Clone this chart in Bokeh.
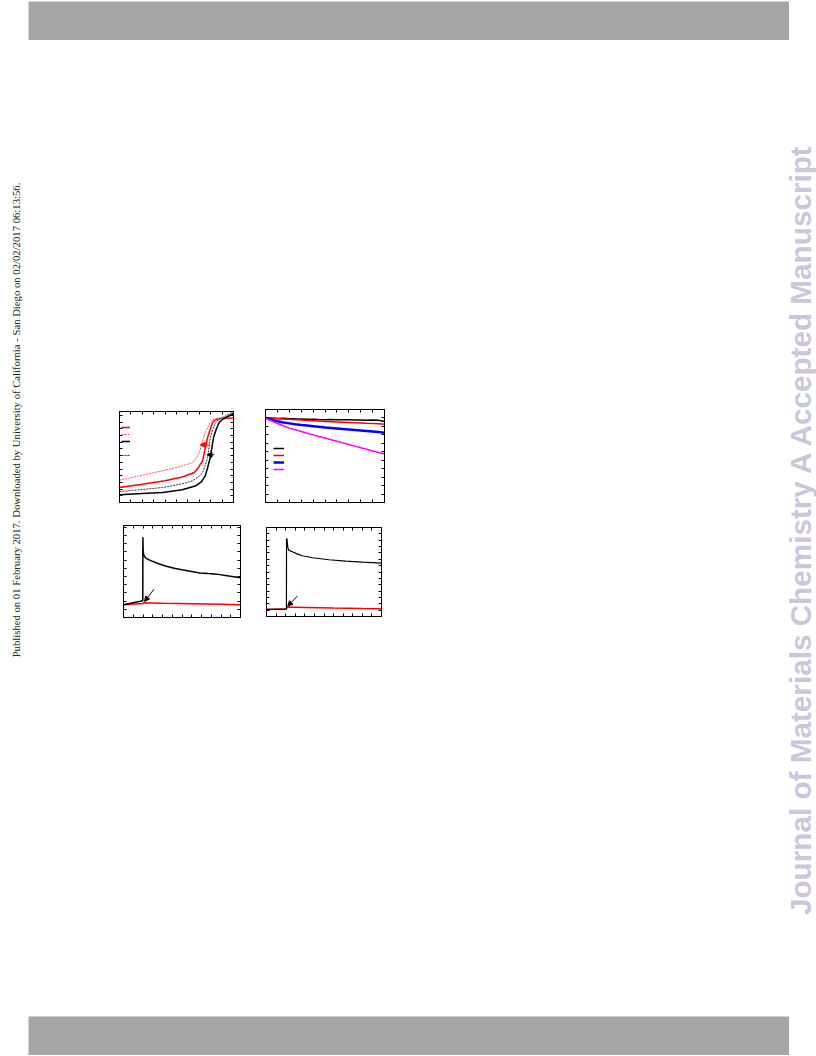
import math
from bokeh.plotting import figure
from bokeh.layouts import row, column, Spacer
from bokeh.models import (Range1d, LinearAxis, SingleIntervalTicker, Legend,
                          LegendItem, Arrow, NormalHead)
from bokeh.core.properties import value
from bokeh.embed import file_html
from bokeh.resources import INLINE

# ---------------- data ----------------
# panel (a): four S-shaped curves
a_red_solid_x = [0.0, 0.20, 0.40, 0.55, 0.656, 0.69, 0.729, 0.75, 0.773, 0.795, 0.816, 0.84, 0.875, 1.0]
a_red_solid_y = [0.224, 0.272, 0.326, 0.381, 0.449, 0.517, 0.623, 0.789, 0.971, 1.088, 1.195, 1.231, 1.255, 1.262]
a_red_dot_x = [0.0, 0.20, 0.40, 0.55, 0.641, 0.675, 0.70, 0.715, 0.729, 0.75, 0.773, 0.795, 0.816, 0.85, 1.0]
a_red_dot_y = [0.333, 0.408, 0.483, 0.544, 0.598, 0.666, 0.748, 0.830, 0.922, 1.034, 1.121, 1.197, 1.235, 1.255, 1.265]
a_blk_solid_x = [0.0, 0.20, 0.379, 0.55, 0.67, 0.72, 0.752, 0.775, 0.796, 0.81, 0.825, 0.85, 0.875, 0.90, 0.933, 1.0]
a_blk_solid_y = [0.114, 0.133, 0.150, 0.190, 0.249, 0.313, 0.398, 0.530, 0.673, 0.816, 0.971, 1.102, 1.195, 1.238, 1.270, 1.330]
a_blk_dot_x = [0.0, 0.20, 0.379, 0.55, 0.641, 0.69, 0.729, 0.75, 0.773, 0.785, 0.796, 0.82, 0.845, 0.87, 0.904, 1.0]
a_blk_dot_y = [0.163, 0.194, 0.224, 0.279, 0.324, 0.381, 0.449, 0.544, 0.673, 0.816, 0.971, 1.102, 1.195, 1.238, 1.270, 1.36]
a_arrow_red = [0.787, 0.862, 0.708, 0.862]   # x_start, y_start, x_end, y_end
a_arrow_blk = [0.831, 0.713, 0.767, 0.713]

# panel (b): retention-type curves
b_x = [0, 5, 10, 15, 20, 25, 30, 35, 40, 45, 50, 55, 60, 65, 70, 75, 80, 85, 90, 95, 100]
b_black = [100, 99.8, 99.5, 99.6, 99.2, 99.0, 98.9, 98.4, 98.6, 98.2, 98.0, 98.3, 97.9, 97.8, 97.9, 97.5, 97.6, 97.4, 97.6, 97.2, 95.8]
b_red = [100, 99.6, 99.2, 98.8, 98.4, 98.0, 97.5, 97.1, 96.7, 96.3, 95.8, 95.5, 95.2, 94.9, 94.6, 94.3, 94.0, 93.6, 93.3, 93.0, 92.7]
b_blue = [100, 97.8, 96.0, 94.6, 93.6, 92.6, 91.7, 91.0, 90.3, 89.5, 88.8, 88.2, 87.6, 87.0, 86.4, 85.8, 85.2, 84.6, 84.0, 83.3, 82.5]
b_magenta = [100, 96.5, 93.5, 90.7, 88.0, 86.0, 84.0, 82.0, 80.0, 78.0, 76.2, 74.3, 72.4, 70.5, 68.6, 66.7, 64.8, 62.9, 61.0, 59.2, 57.4]

# panel (c)
c_blk_x = [0, 19.8, 19.9, 20.2, 20.6, 21.2, 22.8, 26.8, 36.0, 43.9, 52.0, 61.1, 70.0, 78.1, 87.0, 95.3, 108.0, 120.0]
c_blk_y = [15.6, 20.4, 97.7, 80.6, 77.0, 75.0, 72.2, 69.9, 65.5, 62.5, 60.0, 57.7, 56.0, 54.3, 53.5, 52.8, 50.4, 48.3]
c_red_x = [0, 19.8, 20.3, 40, 70, 100, 120]
c_red_y = [15.6, 17.0, 17.9, 17.4, 16.8, 16.2, 15.6]
c_arrow = [31.2, 34.4, 21.6, 19.6]

# panel (d)
d_blk_x = [0, 20.8, 20.9, 21.3, 21.8, 22.3, 23.5, 27.0, 32.0, 37.4, 47.9, 65.2, 82.6, 99.8, 120.0]
d_blk_y = [11.1, 11.6, 121.0, 123.0, 115.0, 108.0, 104.0, 101.9, 98.5, 95.6, 92.4, 89.3, 87.2, 85.5, 84.0]
d_red_x = [0, 20.8, 21.6, 40, 70, 100, 120]
d_red_y = [11.1, 12.2, 14.8, 14.2, 13.3, 12.6, 12.2]
d_arrow = [32.3, 32.2, 22.2, 16.4]

LEFT_TEXT = "Published on 01 February 2017. Downloaded by University of California - San Diego on 02/02/2017 06:13:56."
RIGHT_TEXT = "Journal of Materials Chemistry A Accepted Manuscript"

# ---------------- helpers ----------------
def panel(w, h, xr, yr, xint, yint):
    p = figure(width=w, height=h, x_range=Range1d(*xr), y_range=Range1d(*yr),
               output_backend="svg", toolbar_location=None, min_border=10)
    p.grid.visible = False
    p.add_layout(LinearAxis(), "above")
    p.add_layout(LinearAxis(), "right")
    for ax in p.xaxis:
        ax.ticker = SingleIntervalTicker(interval=xint, num_minor_ticks=0)
    for ax in p.yaxis:
        ax.ticker = SingleIntervalTicker(interval=yint, num_minor_ticks=0)
    for ax in p.axis:
        ax.major_tick_in = 3
        ax.major_tick_out = 0
        ax.minor_tick_in = 0
        ax.minor_tick_out = 0
        ax.major_label_text_font_size = "1px"
        ax.major_label_text_color = None
        ax.major_label_text_alpha = 0
        ax.major_label_standoff = 0
        ax.axis_line_color = "black"
        ax.major_tick_line_color = "black"
    p.outline_line_color = "black"
    p.outline_line_width = 1
    return p


def legend(items, loc, gw):
    return Legend(items=items, location=loc, padding=0, margin=0, spacing=1,
                  glyph_height=6, glyph_width=gw, label_height=6, label_width=1,
                  label_standoff=0, label_text_font_size="5px",
                  label_text_color=None, label_text_alpha=0,
                  border_line_color=None, background_fill_alpha=0)


def arrow(p, a, color):
    p.add_layout(Arrow(end=NormalHead(size=5, fill_color=color, line_color=color),
                       x_start=a[0], y_start=a[1], x_end=a[2], y_end=a[3],
                       line_color=color, line_width=1))


def plain(w, h, **kw):
    p = figure(width=w, height=h, x_range=Range1d(0, w), y_range=Range1d(0, h),
               output_backend="svg", toolbar_location=None, min_border=0,
               x_axis_type=None, y_axis_type=None, **kw)
    p.grid.visible = False
    p.outline_line_color = None
    return p

# ---------------- panel a ----------------
pa = panel(134, 111, (0, 1.0), (0, 1.36), 0.1, 0.1)
r1 = pa.line(a_red_solid_x, a_red_solid_y, line_color="red", line_width=1.5)
r2 = pa.line(a_red_dot_x, a_red_dot_y, line_color="#ff5050", line_width=1, line_dash="2 1")
r3 = pa.line(a_blk_solid_x, a_blk_solid_y, line_color="black", line_width=1.5)
r4 = pa.line(a_blk_dot_x, a_blk_dot_y, line_color="#333333", line_width=1, line_dash="2 1")
rblank = pa.line([], [], line_alpha=0)
arrow(pa, a_arrow_red, "red")
arrow(pa, a_arrow_blk, "black")
pa.add_layout(legend([LegendItem(label="", renderers=[r]) for r in (r1, r2, r3, rblank, r4)], (2, 44), 9))

# ---------------- panel b ----------------
pb = panel(139, 113, (0, 100), (0, 110), 10, 10)
q1 = pb.line(b_x, b_black, line_color="black", line_width=1.5)
q2 = pb.line(b_x, b_red, line_color="red", line_width=1.5)
q3 = pb.line(b_x, b_blue, line_color="blue", line_width=2.5)
q4 = pb.line(b_x, b_magenta, line_color="magenta", line_width=1.5)
pb.add_layout(legend([LegendItem(label="", renderers=[r]) for r in (q1, q2, q3, q4)], (8, 30), 11))

# ---------------- panel c ----------------
pc = panel(137, 112, (0, 120), (0, 112), 10, 10)
pc.line(c_red_x, c_red_y, line_color="red", line_width=1.5)
pc.line(c_blk_x, c_blk_y, line_color="black", line_width=1.5)
arrow(pc, c_arrow, "black")

# ---------------- panel d ----------------
pd_ = panel(135, 109, (0, 120), (0, 140), 10, 10)
pd_.line(d_red_x, d_red_y, line_color="red", line_width=1.5)
pd_.line(d_blk_x, d_blk_y, line_color="black", line_width=1.2)
arrow(pd_, d_arrow, "black")

# ---------------- page furniture ----------------
header = plain(761, 39, background_fill_color="#a6a6a6", border_fill_color="#a6a6a6")
footer = plain(761, 39, background_fill_color="#a6a6a6", border_fill_color="#a6a6a6")

left = plain(38, 976)
left.text(x=[15.5], y=[596.5], text=[LEFT_TEXT], angle=math.pi / 2,
          text_font=value("Liberation Serif"), text_font_size="10.7px",
          text_align="center", text_baseline="alphabetic", text_color="#222222")

right = plain(56, 976)
right.text(x=[40], y=[487.5], text=[RIGHT_TEXT], angle=math.pi / 2,
           text_font=value("Liberation Sans"), text_font_size="29.7px", text_font_style="bold",
           text_align="center", text_baseline="alphabetic", text_color="#c8c8dc")

row1 = row(Spacer(width=71, height=1), column(Spacer(width=1, height=2), pa),
           Spacer(width=12, height=1), pb)
row2 = row(Spacer(width=75, height=1), pc, Spacer(width=6, height=1),
           column(Spacer(width=1, height=2), pd_))
middle = column(Spacer(width=722, height=359), row1, Spacer(width=1, height=3), row2)

layout = column(Spacer(width=816, height=1),
                row(Spacer(width=28, height=39), header),
                row(left, middle, right),
                row(Spacer(width=28, height=39), footer))

open("out.html", "w").write(file_html(layout, INLINE, title="Figure"))
